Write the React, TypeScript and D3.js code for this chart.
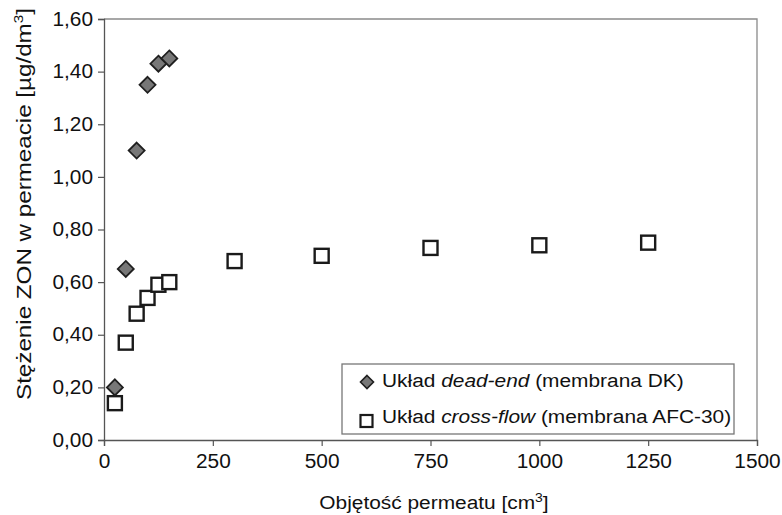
import React, { useEffect, useRef } from "react";
import * as d3 from "d3";

// Permeate volume [cm3] and ZON concentration [µg/dm3]
const deadEndVolume = [25, 50, 75, 100, 125, 150];
const deadEndConc = [0.2, 0.65, 1.1, 1.35, 1.43, 1.45];

const crossFlowVolume = [25, 50, 75, 100, 125, 150, 300, 500, 750, 1000, 1250];
const crossFlowConc = [0.14, 0.37, 0.48, 0.54, 0.59, 0.6, 0.68, 0.7, 0.73, 0.74, 0.75];

const xTicks = [0, 250, 500, 750, 1000, 1250, 1500];
const yTicks = [0, 0.2, 0.4, 0.6, 0.8, 1.0, 1.2, 1.4, 1.6];

const W = 782;
const H = 515;
const M = { left: 104, right: 757, top: 19, bottom: 440 };
const FONT = "'Liberation Sans', Arial, sans-serif";
// the typeface is drawn slightly wide
const TICK_STRETCH = 1.07;
const TEXT_STRETCH = 1.16;

export default function App() {
  const ref = useRef<SVGSVGElement>(null);

  useEffect(() => {
    const svg = d3.select(ref.current);
    svg.selectAll("*").remove();

    const x = d3.scaleLinear().domain([0, 1500]).range([M.left, M.right]);
    const y = d3.scaleLinear().domain([0, 1.6]).range([M.bottom, M.top]);
    const fmt = (v: number) => v.toFixed(2).replace(".", ",");

    // plot frame (top and right)
    svg.append("path")
      .attr("d", `M${M.left},${M.top}H${M.right}V${M.bottom}`)
      .attr("fill", "none")
      .attr("stroke", "#8a8a8a")
      .attr("stroke-width", 1.3);

    const yAxis = svg.append("g").attr("transform", `translate(${M.left},0)`)
      .call(d3.axisLeft(y).tickValues(yTicks).tickFormat((d) => fmt(d as number)).tickSize(6).tickPadding(5));
    const xAxis = svg.append("g").attr("transform", `translate(0,${M.bottom})`)
      .call(d3.axisBottom(x).tickValues(xTicks).tickFormat((d) => String(d)).tickSize(6).tickPadding(8));

    [yAxis, xAxis].forEach((g) => {
      g.select(".domain").attr("stroke", "#555").attr("stroke-width", 1.3);
      g.selectAll(".tick line").attr("stroke", "#555").attr("stroke-width", 1.2);
      g.selectAll<SVGTextElement, unknown>(".tick text")
        .attr("fill", "#111")
        .style("font-family", FONT)
        .style("font-size", "19.5px")
        .each(function () {
          const t = d3.select(this);
          const tx = +(t.attr("x") || 0);
          const ty = +(t.attr("y") || 0);
          t.attr("x", 0).attr("y", 0)
            .attr("transform", `translate(${tx},${ty}) scale(${TICK_STRETCH},1)`);
        });
    });

    // cross-flow squares
    const sq = 14;
    svg.append("g").selectAll("rect")
      .data(crossFlowVolume.map((v, i) => [v, crossFlowConc[i]]))
      .join("rect")
      .attr("x", (d) => x(d[0]) - sq / 2)
      .attr("y", (d) => y(d[1]) - sq / 2)
      .attr("width", sq)
      .attr("height", sq)
      .attr("fill", "#fff")
      .attr("stroke", "#1a1a1a")
      .attr("stroke-width", 2.4);

    // dead-end diamonds
    const dm = 8;
    const diamond = (cx: number, cy: number, r: number) =>
      `M${cx},${cy - r}L${cx + r},${cy}L${cx},${cy + r}L${cx - r},${cy}Z`;
    svg.append("g").selectAll("path")
      .data(deadEndVolume.map((v, i) => [v, deadEndConc[i]]))
      .join("path")
      .attr("d", (d) => diamond(x(d[0]), y(d[1]), dm))
      .attr("fill", "#777")
      .attr("stroke", "#1f1f1f")
      .attr("stroke-width", 1.8);

    // legend
    const lg = svg.append("g");
    lg.append("rect")
      .attr("x", 342).attr("y", 364).attr("width", 392).attr("height", 70)
      .attr("fill", "#fff").attr("stroke", "#777").attr("stroke-width", 1.3);
    lg.append("path").attr("d", diamond(367, 382, 6.5))
      .attr("fill", "#777").attr("stroke", "#1f1f1f").attr("stroke-width", 1.6);
    lg.append("rect").attr("x", 360.5).attr("y", 415).attr("width", 12).attr("height", 12)
      .attr("fill", "#fff").attr("stroke", "#1a1a1a").attr("stroke-width", 2.2);

    const legendText = (ty: number, italic: string, rest: string) => {
      const t = lg.append("text")
        .attr("transform", `translate(382,${ty}) scale(${TEXT_STRETCH},1)`)
        .style("font-family", FONT).style("font-size", "18px").attr("fill", "#111");
      t.append("tspan").text("Układ ");
      t.append("tspan").attr("font-style", "italic").text(italic);
      t.append("tspan").text(rest);
    };
    legendText(387, "dead-end", " (membrana DK)");
    legendText(423, "cross-flow", " (membrana AFC-30)");

    // x axis title
    const xt = svg.append("text")
      .attr("transform", `translate(434,509) scale(${TEXT_STRETCH},1)`)
      .attr("text-anchor", "middle")
      .style("font-family", FONT).style("font-size", "18px").attr("fill", "#111");
    xt.append("tspan").text("Objętość permeatu [cm");
    xt.append("tspan").attr("dy", -7).style("font-size", "12px").text("3");
    xt.append("tspan").attr("dy", 7).text("]");

    // y axis title
    const yt = svg.append("text")
      .attr("transform", `translate(31,204) rotate(-90) scale(1.18,1)`)
      .attr("text-anchor", "middle")
      .style("font-family", FONT).style("font-size", "20.5px").attr("fill", "#111");
    yt.append("tspan").text("Stężenie ZON w permeacie [µg/dm");
    yt.append("tspan").attr("dy", -8).style("font-size", "13px").text("3");
    yt.append("tspan").attr("dy", 8).text("]");
  }, []);

  return (
    <svg
      ref={ref}
      width={W}
      height={H}
      style={{ position: "absolute", left: 0, top: 0, background: "#fff" }}
    />
  );
}
